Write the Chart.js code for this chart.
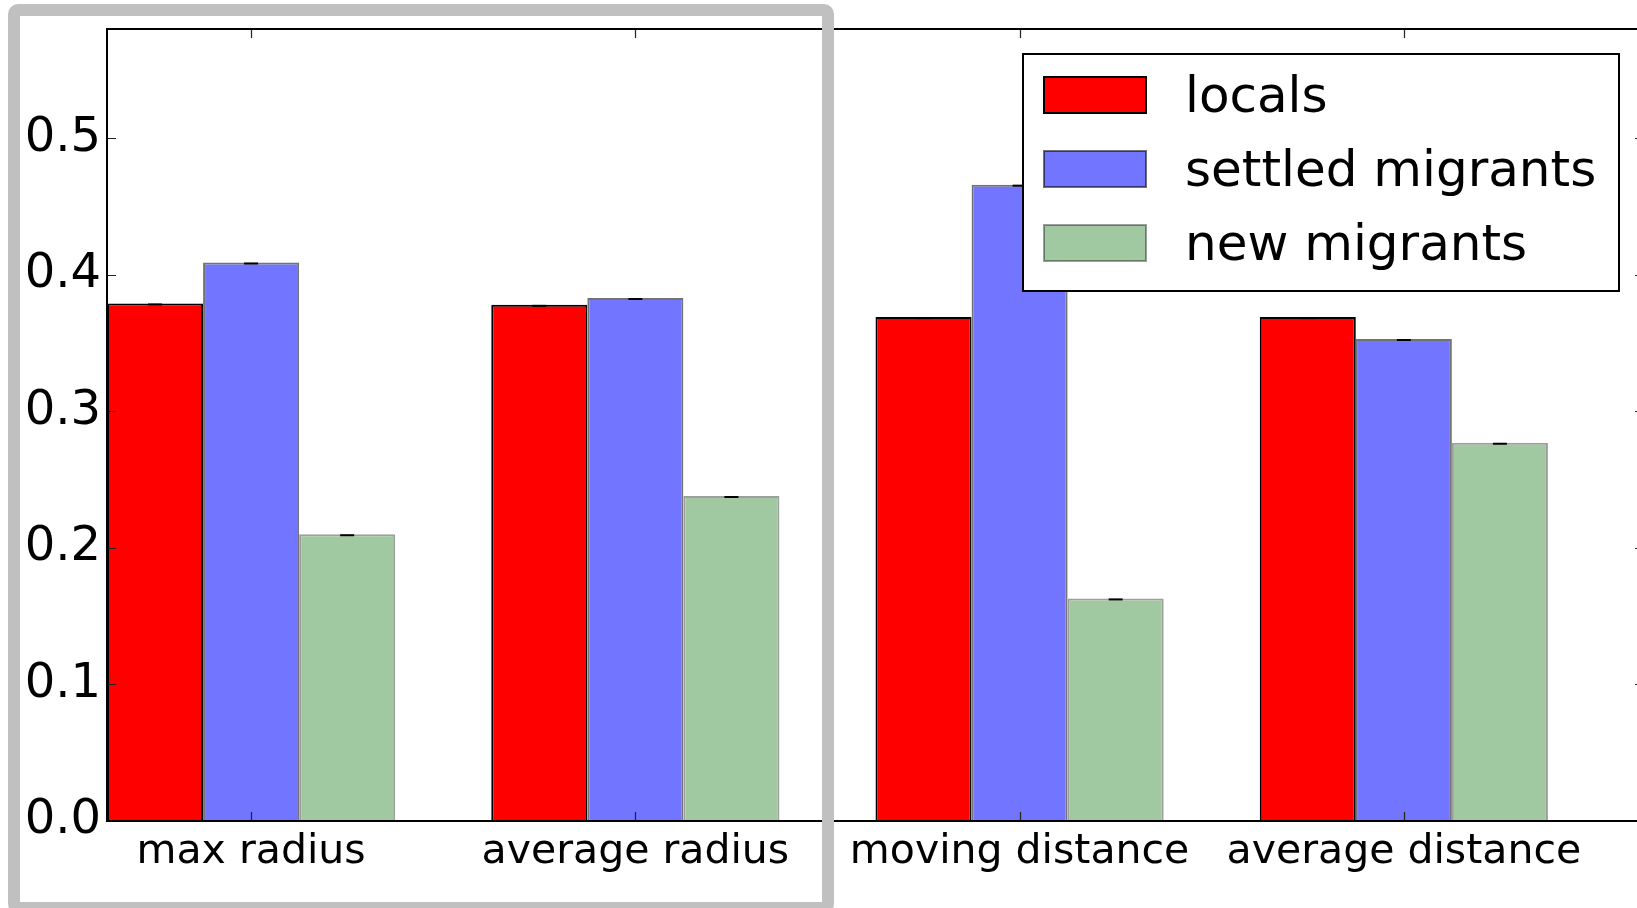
<!DOCTYPE html>
<html>
<head>
<meta charset="utf-8">
<script src="https://cdn.jsdelivr.net/npm/chart.js@4.4.0/dist/chart.umd.min.js"></script>
<style>
  html, body { margin: 0; padding: 0; background: #fff; overflow: hidden; }
  #wrap { position: relative; width: 1637px; height: 908px; overflow: hidden; }
  #chart { position: absolute; left: 0; top: 0; }
  #frame {
    position: absolute; left: 8px; top: 4px; width: 826px; height: 910px;
    box-sizing: border-box; border: 12px solid #c0c0c0; border-radius: 10px;
    pointer-events: none;
  }
</style>
</head>
<body>
<div id="wrap">
  <canvas id="chart" width="1660" height="908"></canvas>
  <div id="frame"></div>
</div>
<script>
// data
var categories = ['max radius', 'average radius', 'moving distance', 'average distance'];
var seriesNames = ['locals', 'settled migrants', 'new migrants'];
var locals = [0.379, 0.378, 0.369, 0.369];
var settledMigrants = [0.409, 0.383, 0.466, 0.353];
var newMigrants = [0.210, 0.238, 0.163, 0.277];
var yTicks = [0.0, 0.1, 0.2, 0.3, 0.4, 0.5];

var FONT = 'DejaVu Sans';

function toPoints(values) {
  return values.map(function (v, i) { return { x: i, y: v }; });
}

// matplotlib-like frame, inward ticks, zero error caps and the boxed legend
var axesFramePlugin = {
  id: 'axesFrame',
  afterDatasetsDraw: function (chart) {
    var ctx = chart.ctx;
    var a = chart.chartArea;
    var xs = chart.scales.x;
    var ys = chart.scales.y;
    ctx.save();

    // error bar caps (zero length errors)
    ctx.strokeStyle = '#000';
    ctx.lineWidth = 2;
    chart.data.datasets.forEach(function (ds, di) {
      chart.getDatasetMeta(di).data.forEach(function (bar) {
        ctx.beginPath();
        ctx.moveTo(bar.x - 7, bar.y + 1);
        ctx.lineTo(bar.x + 7, bar.y + 1);
        ctx.stroke();
      });
    });

    // inward ticks
    ctx.strokeStyle = '#222';
    ctx.lineWidth = 1.2;
    var tl = 9;
    ys.ticks.forEach(function (t) {
      var y = Math.round(ys.getPixelForValue(t.value)) + 0.5;
      ctx.beginPath();
      ctx.moveTo(a.left, y); ctx.lineTo(a.left + tl, y);
      ctx.moveTo(a.right, y); ctx.lineTo(a.right - tl, y);
      ctx.stroke();
    });
    xs.ticks.forEach(function (t) {
      var x = Math.round(xs.getPixelForValue(t.value)) + 0.5;
      ctx.beginPath();
      ctx.moveTo(x, a.top); ctx.lineTo(x, a.top + tl);
      ctx.moveTo(x, a.bottom); ctx.lineTo(x, a.bottom - tl);
      ctx.stroke();
    });

    // spines
    ctx.strokeStyle = '#000';
    ctx.lineWidth = 2;
    ctx.strokeRect(a.left, a.top, a.right - a.left, a.bottom - a.top);

    // legend
    var lx = 1023, ly = 54, lw = 596, lh = 237;
    ctx.fillStyle = '#fff';
    ctx.fillRect(lx, ly, lw, lh);
    ctx.lineWidth = 2;
    ctx.strokeStyle = '#000';
    ctx.strokeRect(lx, ly, lw, lh);
    ctx.font = '50px "' + FONT + '"';
    ctx.textBaseline = 'alphabetic';
    ctx.textAlign = 'left';
    chart.data.datasets.forEach(function (ds, i) {
      var sy = 77 + i * 74;
      ctx.fillStyle = ds.backgroundColor;
      ctx.fillRect(1044, sy, 102, 36);
      ctx.lineWidth = 2;
      ctx.strokeStyle = ds.borderColor;
      ctx.strokeRect(1044, sy, 102, 36);
      ctx.fillStyle = '#000';
      ctx.fillText(ds.label, 1185, sy + 35);
    });

    ctx.restore();
  }
};

function noScalePadding(s) {
  s.paddingTop = 0;
  s.paddingBottom = 0;
  s.paddingLeft = 0;
  s.paddingRight = 0;
}

var chart = new Chart(document.getElementById('chart'), {
  type: 'bar',
  data: {
    datasets: [
      {
        label: seriesNames[0],
        data: toPoints(locals),
        backgroundColor: '#ff0000',
        borderColor: '#000000',
        borderWidth: 2,
        barPercentage: 1.0,
        categoryPercentage: 0.75
      },
      {
        label: seriesNames[1],
        data: toPoints(settledMigrants),
        backgroundColor: '#7175ff',
        borderColor: 'rgba(0,0,0,0.55)',
        borderWidth: 2,
        barPercentage: 1.0,
        categoryPercentage: 0.75
      },
      {
        label: seriesNames[2],
        data: toPoints(newMigrants),
        backgroundColor: '#a1c9a1',
        borderColor: 'rgba(0,0,0,0.38)',
        borderWidth: 2,
        barPercentage: 1.0,
        categoryPercentage: 0.75
      }
    ]
  },
  options: {
    responsive: false,
    animation: false,
    events: [],
    layout: { padding: { top: 29, right: 16, left: 0, bottom: 0 } },
    plugins: {
      legend: { display: false },
      tooltip: { enabled: false }
    },
    scales: {
      x: {
        type: 'linear',
        min: -0.375,
        max: 3.625,
        offset: false,
        grid: { display: false, drawTicks: false },
        border: { display: false },
        afterBuildTicks: function (s) {
          s.ticks = categories.map(function (c, i) { return { value: i }; });
        },
        afterFit: function (s) { s.height = 87; noScalePadding(s); },
        ticks: {
          color: '#000',
          font: { family: FONT, size: 41 },
          padding: 7,
          maxRotation: 0,
          autoSkip: false,
          callback: function (v) { return categories[v]; }
        }
      },
      y: {
        min: 0,
        max: 0.58,
        grid: { display: false, drawTicks: false },
        border: { display: false },
        afterBuildTicks: function (s) {
          s.ticks = yTicks.map(function (v) { return { value: v }; });
        },
        afterFit: function (s) { s.width = 107; noScalePadding(s); },
        ticks: {
          color: '#000',
          font: { family: FONT, size: 48 },
          padding: 6,
          callback: function (v) { return v.toFixed(1); }
        }
      }
    }
  },
  plugins: [axesFramePlugin]
});
</script>
</body>
</html>
